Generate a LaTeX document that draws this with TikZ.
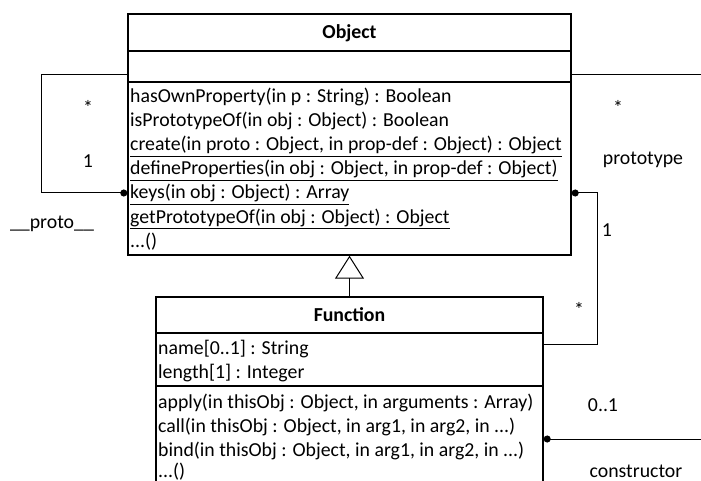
\documentclass[tikz,border=0pt]{standalone}
\usepackage{fontspec}
\setmainfont{Carlito}
\usepackage{tikz}
\usetikzlibrary{arrows.meta,positioning}

\begin{document}
\begin{tikzpicture}[x=1pt, y=-1pt,
    classbox/.style={draw, line width=1.4pt, fill=white, inner sep=0pt},
    member/.style={anchor=base west, inner sep=0pt, font=\fontsize{19.8}{22}\selectfont},
    title/.style={inner sep=0pt, font=\fontsize{19.8}{22}\selectfont\bfseries},
    lbl/.style={inner sep=0pt, font=\fontsize{19.8}{22}\selectfont},
    assoc/.style={line width=1pt},
    dotend/.style={{Circle[length=7pt]}-}]
    \useasboundingbox (0,0) rectangle (701,481);
    \clip (0,0) rectangle (701,481);

    % Classes
    \node[classbox, minimum width=443, minimum height=241] (obj) at (349.5,134.5) {};
    \node[classbox, minimum width=387, minimum height=210] (fun) at (349.5,402) {};

    % Object compartments
    \draw[line width=1.4pt] (obj.west |- 0,51) -- (obj.east |- 0,51);
    \draw[line width=1.4pt] (obj.west |- 0,82) -- (obj.east |- 0,82);
    \node[title] (objname) at (349.5,33) {Object};
    \node[member] (m1) at (130,103) {hasOwnProperty(in p : String) : Boolean};
    \node[member] (m2) at (130,127) {isPrototypeOf(in obj : Object) : Boolean};
    \node[member] (m3) at (130,151) {\underline{create(in proto : Object, in prop-def : Object) : Object}};
    \node[member] (m4) at (130,175) {\underline{defineProperties(in obj : Object, in prop-def : Object)}};
    \node[member] (m5) at (130,199) {\underline{keys(in obj : Object) : Array}};
    \node[member] (m6) at (130,223) {\underline{getPrototypeOf(in obj : Object) : Object}};
    \node[member] (m7) at (130,247) {...()};

    % Function compartments
    \draw[line width=1.4pt] (fun.west |- 0,333) -- (fun.east |- 0,333);
    \draw[line width=1.4pt] (fun.west |- 0,386) -- (fun.east |- 0,386);
    \node[title] (funname) at (349.5,315) {Function};
    \node[member] (f1) at (158,354) {name[0..1] : String};
    \node[member] (f2) at (158,378) {length[1] : Integer};
    \node[member] (f3) at (158,408) {apply(in thisObj : Object, in arguments : Array)};
    \node[member] (f4) at (158,432) {call(in thisObj : Object, in arg1, in arg2, in ...)};
    \node[member] (f5) at (158,456) {bind(in thisObj : Object, in arg1, in arg2, in ...)};
    \node[member] (f6) at (158,477) {...()};

    % Generalization
    \draw[line width=1pt, -{Triangle[open, length=23pt, width=29pt, line width=1pt]}] (fun.north) -- (obj.south);

    % __proto__ self association
    \coordinate (pA) at (obj.west |- 0,75);
    \coordinate (pB) at (41,75);
    \coordinate (pC) at (41,193);
    \coordinate (pD) at (obj.west |- 0,193);
    \draw[assoc, -{Circle[length=7pt]}] (pA) -- (pB) -- (pC) -- (pD);
    \node[lbl] (pstar) at (88,107) {*};
    \node[lbl] (pone) at (88,161) {1};
    \node[lbl] (pname) at (52,224) {\_\_proto\_\_};

    % prototype association
    \coordinate (tA) at (obj.east |- 0,75);
    \coordinate (tB) at (701,75);
    \draw[assoc] (tA) -- (tB);
    \node[lbl] (tstar) at (618,107) {*};
    \node[lbl] (tname) at (643,160) {prototype};

    % Object -- Function
    \coordinate (oA) at (obj.east |- 0,193);
    \coordinate (oB) at (597,193);
    \coordinate (oC) at (597,344);
    \coordinate (oD) at (fun.east |- 0,344);
    \draw[assoc, dotend] (oA) -- (oB) -- (oC) -- (oD);
    \node[lbl] (oone) at (607,230) {1};
    \node[lbl] (ostar) at (579,309) {*};

    % constructor association
    \coordinate (cA) at (fun.east |- 0,439);
    \coordinate (cB) at (701,439);
    \draw[assoc, dotend] (cA) -- (cB);
    \node[lbl] (cmult) at (603,405) {0..1};
    \node[lbl, anchor=base] (cname) at (636,477) {constructor};
\end{tikzpicture}
\end{document}
